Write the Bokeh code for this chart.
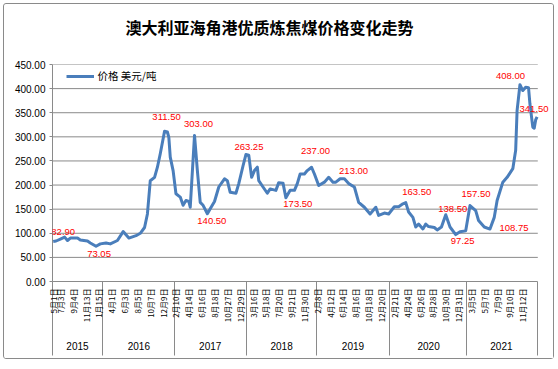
import math
from bokeh.plotting import figure
from bokeh.models import (Range1d, FixedTicker, LinearAxis, NumeralTickFormatter,
                          Legend, LegendItem, LabelSet, ColumnDataSource, Title)
from bokeh.core.properties import value
from bokeh.embed import file_html
from bokeh.resources import INLINE

TITLE = "澳大利亚海角港优质炼焦煤价格变化走势"
SERIES_NAME = "价格 美元/吨"

WEEK_IDX = [0, 2, 5, 8, 10, 12, 17, 19, 24, 26, 30, 33, 37, 40, 45, 49, 53, 58, 61, 64,
            66, 68, 71, 73, 75, 78, 80, 81, 82, 84, 86, 89, 91, 93, 95, 96, 99, 101, 103, 105,
            108, 110, 113, 116, 120, 122, 124, 128, 130, 133, 135, 137, 139, 141, 143, 144, 147, 150, 152, 156,
            158, 161, 163, 166, 169, 171, 173, 176, 178, 181, 183, 186, 190, 193, 196, 198, 201, 204, 207, 211,
            214, 218, 222, 226, 228, 232, 235, 239, 242, 245, 247, 249, 252, 254, 256, 259, 261, 263, 267, 269,
            272, 275, 278, 282, 285, 289, 292, 296, 298, 302, 306, 309, 311, 315, 318, 322, 324, 325, 327, 329,
            331, 333, 334, 336, 337, 338, 339]
PRICE = [82.90, 84, 88, 92, 85, 90, 90, 86, 84, 80, 73.05, 78, 80, 78, 85, 103.5, 90, 95, 100, 112,
         140, 209, 216, 237, 265, 311.50, 310, 299, 258, 230, 182, 175, 158, 168, 166, 154, 303.00, 230, 164, 158,
         140.50, 151, 166, 196, 213, 209, 185, 183, 203, 240, 263.25, 262, 216, 230, 237, 209, 196, 183, 192, 189,
         205, 204, 173.50, 189, 189, 203, 223, 223, 230, 237.00, 223, 199, 206, 216, 206, 206, 213.00, 213, 203, 196,
         164, 154, 140, 154, 137, 142, 140, 155, 155, 161, 163.50, 144, 133, 113, 119, 109, 119, 114, 112, 107,
         113, 138.50, 113, 97.25, 103, 105, 157.50, 147, 126.5, 113, 108.75, 133, 168, 206, 216, 234, 272, 355, 408.00, 396,
         403, 402, 368, 320, 318, 335, 341.50]

# category axis labels
DATE_LABELS = ["5月1日", "7月3日", "9月4日", "11月13日", "1月15日",
               "4月1日", "6月3日", "8月5日", "10月7日", "12月9日",
               "2月10日", "4月14日", "6月16日", "8月18日", "10月27日", "12月29日",
               "3月16日", "5月18日", "7月20日", "9月21日", "11月30日",
               "2月8日", "4月12日", "6月14日", "8月16日", "10月18日", "12月20日",
               "2月21日", "4月24日", "6月26日", "8月28日", "10月30日", "12月31日",
               "3月5日", "5月7日", "7月9日", "9月10日", "11月12日"]
YEARS = ["2015", "2016", "2017", "2018", "2019", "2020", "2021"]
YEAR_BOUNDS = [-0.5, 34.6, 84.7, 135.6, 184.4, 235.9, 289.4, 339.5]
Y_TICKS = [0, 50, 100, 150, 200, 250, 300, 350, 400, 450]

# annotated points (index into the series)
LABEL_IDX = [0, 30, 78, 99, 108, 135, 163, 181, 201, 247, 275, 282, 292, 306, 327, 339]

# layout: pixel offsets of the red value labels (dx right, dy up)
LABEL_OFFSETS = [(10, 9.5), (3, -8), (2, 14), (4, 11), (4.5, -7.5), (3, 8), (12, -6), (4, 16),
                 (13.5, 7.5), (11, 10.5), (7, 6), (7, -6), (6, 12), (24, 1), (-9.5, 9), (-3, 8)]

GREY = "#8a8a8a"
BLUE = "#4a7ebb"

date_ticks = [0] + [9 * k - 4 for k in range(1, len(DATE_LABELS))]
year_centers = [round((a + b) / 2) for a, b in zip(YEAR_BOUNDS[:-1], YEAR_BOUNDS[1:])]
x_lo, x_hi = YEAR_BOUNDS[0], YEAR_BOUNDS[-1]

p = figure(width=551, height=356, output_backend="svg", toolbar_location=None,
           x_range=Range1d(x_lo, 348.4), y_range=Range1d(0, 450),
           min_border_left=48, min_border_right=5, min_border_top=60, min_border_bottom=79)
p.styles = {"border": "1px solid #8a8a8a", "border-radius": "3px", "margin": "3px 0 0 3px"}
p.outline_line_color = None
p.background_fill_color = "white"
p.border_fill_color = "white"

p.title.text = TITLE
p.title.align = "left"
p.title.offset = 73
p.title.text_font = "Noto Sans CJK SC"
p.title.text_font_size = "16px"
p.title.text_font_style = "bold"
p.title.text_color = "black"

# empty spacer between plot frame and title
spacer = Title(text=" ", text_font_size="8px")
p.add_layout(spacer, "above")

# horizontal grid lines, limited to the category span
p.segment(x0=[x_lo] * (len(Y_TICKS) - 1), x1=[x_hi] * (len(Y_TICKS) - 1),
          y0=Y_TICKS[1:], y1=Y_TICKS[1:], line_color=GREY, line_width=1)

src = ColumnDataSource(dict(x=WEEK_IDX, y=PRICE))
r = p.line("x", "y", source=src, line_color=BLUE, line_width=3, line_join="round")

pos = {i: v for i, v in zip(WEEK_IDX, PRICE)}
lab_src = ColumnDataSource(dict(
    x=LABEL_IDX,
    y=[pos[i] for i in LABEL_IDX],
    text=["%.2f" % pos[i] for i in LABEL_IDX],
    xo=[o[0] for o in LABEL_OFFSETS],
    yo=[o[1] for o in LABEL_OFFSETS],
))
labels = LabelSet(x="x", y="y", text="text", x_offset="xo", y_offset="yo", source=lab_src,
                  text_align="center", text_baseline="middle", text_color="#ff0000",
                  text_font_size="9.5px", text_font=value("Liberation Sans"))
p.add_layout(labels)

# y axis
p.yaxis.ticker = FixedTicker(ticks=Y_TICKS)
p.yaxis.formatter = NumeralTickFormatter(format="0.00")
p.yaxis.axis_line_color = GREY
p.yaxis.major_tick_line_color = GREY
p.yaxis.major_tick_out = 3
p.yaxis.major_tick_in = 0
p.yaxis.minor_tick_line_color = None
p.yaxis.major_label_standoff = 4
p.yaxis.major_label_text_font = "Liberation Sans"
p.yaxis.major_label_text_font_size = "10px"
p.yaxis.major_label_text_color = "black"

p.grid.visible = False

# x axis: dates + year separators (separators drawn as outward minor ticks)
xa = p.xaxis[0]
xa.bounds = (x_lo, x_hi)
xa.ticker = FixedTicker(ticks=date_ticks, minor_ticks=YEAR_BOUNDS)
xa.major_label_overrides = {t: s for t, s in zip(date_ticks, DATE_LABELS)}
xa.major_label_orientation = math.pi / 2
xa.major_tick_out = 0
xa.major_tick_in = 0
xa.minor_tick_out = 0
xa.minor_tick_in = -74
xa.minor_tick_line_color = GREY
xa.axis_line_color = GREY
xa.major_label_standoff = 7
xa.major_label_text_font = "Noto Sans CJK SC"
xa.major_label_text_font_size = "8px"
xa.major_label_text_color = "black"

ya = LinearAxis(ticker=FixedTicker(ticks=year_centers),
                major_label_overrides={t: s for t, s in zip(year_centers, YEARS)},
                axis_line_color=None, major_tick_line_color=None, minor_tick_line_color=None,
                major_tick_out=0, major_tick_in=0,
                major_label_standoff=16, major_label_text_font="Liberation Sans",
                major_label_text_font_size="10px", major_label_text_color="black")
p.add_layout(ya, "below")

legend = Legend(items=[LegendItem(label=SERIES_NAME, renderers=[r])],
                location=(13.5, 198), padding=0, margin=0, spacing=0,
                glyph_width=28, glyph_height=14, label_height=14, label_standoff=4,
                label_text_font="Noto Sans CJK SC", label_text_font_size="10.5px",
                label_text_color="black", border_line_color=None, background_fill_alpha=0)
p.add_layout(legend)

open("out.html", "w").write(file_html(p, INLINE))
